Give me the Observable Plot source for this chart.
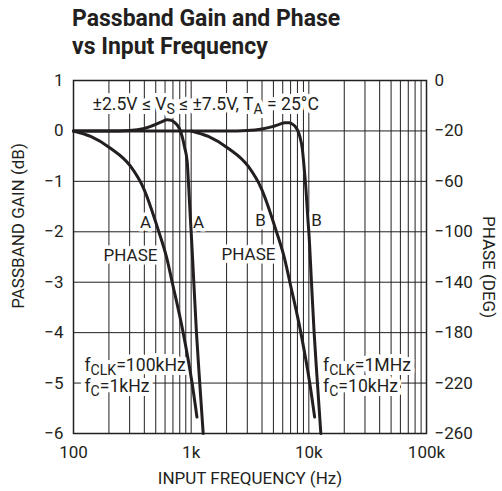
<!DOCTYPE html>
<html><head><meta charset="utf-8">
<script src="https://cdn.jsdelivr.net/npm/d3@7"></script>
<script src="https://cdn.jsdelivr.net/npm/@observablehq/plot@0.6"></script>
<style>
body{margin:0;background:#fff;}
#title{font-family:Roboto,"Liberation Sans",Arial,sans-serif;font-weight:bold;font-size:23px;line-height:27.5px;padding:5px 0 0 72px;height:62px;box-sizing:border-box;color:#231f20;}
</style></head>
<body>
<div id="title">Passband Gain and Phase<br>vs Input Frequency</div>
<div id="chart"></div>
<script>
// ---- data ----
const gainA_freq = [100,200,300,400,500,560,625,680,730,770,800,840,880,925,955,988,1000,1053,1109,1183,1265];
const gainA_dB   = [0,0,0.01,0.05,0.13,0.18,0.22,0.21,0.16,0.1,0.03,-0.12,-0.33,-0.61,-1.15,-1.8,-2,-3,-4,-5,-6];
const gainB_freq = [100,1000,2000,3000,4000,5000,5600,6250,6800,7300,7700,8000,8400,8800,9100,9450,9850,10000,10530,11090,11830,12650];
const gainB_dB   = [0,0,0,0.01,0.04,0.09,0.13,0.16,0.16,0.13,0.08,0.02,-0.12,-0.35,-0.7,-1.15,-1.8,-2,-3,-4,-5,-6];
const phaseA_freq = [100,140,206,305,395,531,625,690,855,1018,1120];
const phaseA_deg  = [-20,-24.4,-33.7,-48,-65.7,-100,-122,-140,-180,-220,-247];
const phaseB_freq = [1000,1400,2060,3050,3950,5310,6250,6900,8550,10180,11200];
const phaseB_deg  = [-20,-24.4,-33.7,-48,-65.7,-100,-122,-140,-180,-220,-247];

const gainTicks = [1,0,-1,-2,-3,-4,-5,-6];
const gainTickLabels = ["1","0","−1","−2","−3","−4","−5","−6"];
const phaseTickLabels = ["0","−20","−60","−100","−140","−180","−220","−260"];
const freqTicks = [100,1000,10000,100000];
const freqTickLabels = ["100","1k","10k","100k"];
const gridDecades = [100,1000,10000];
const gridMultipliers = [1,2,3,4,5,6,7,8,9];

const curveLabels = ["A","A","PHASE","B","B","PHASE"];
const curveLabelFreq = [409,1153,305,3882,11610,3069];
const curveLabelGain = [-1.81,-1.81,-2.47,-1.77,-1.77,-2.45];
const noteLabels = ["±2.5V ≤ V_{S} ≤ ±7.5V, T_{A} = 25°C","f_{CLK}=100kHz","f_{C}=1kHz","f_{CLK}=1MHz","f_{C}=10kHz"];
const noteFreq = [145,124,124,13210,13210];
const noteGain = [0.53,-4.64,-5.06,-4.64,-5.06];

// ---- build tables ----
const toGain = d => (d + 20) / 40; // phase (deg) onto the gain axis
const gainA = gainA_freq.map((f,i)=>({f, g: gainA_dB[i]}));
const gainB = gainB_freq.map((f,i)=>({f, g: gainB_dB[i]}));
const phaseA = phaseA_freq.map((f,i)=>({f, g: toGain(phaseA_deg[i])}));
const phaseB = phaseB_freq.map((f,i)=>({f, g: toGain(phaseB_deg[i])}));
const gridFreqs = gridDecades.flatMap(d => gridMultipliers.map(m => m*d)).filter(f => f > 100);
const curveLab = curveLabels.map((t,i)=>({t, f: curveLabelFreq[i], g: curveLabelGain[i]}));
const notes = noteLabels.map((t,i)=>({t, f: noteFreq[i], g: noteGain[i]}));
const gainFmt = new Map(gainTicks.map((v,i)=>[v, gainTickLabels[i]]));
const phaseFmt = new Map(gainTicks.map((v,i)=>[v, phaseTickLabels[i]]));
const freqFmt = new Map(freqTicks.map((v,i)=>[v, freqTickLabels[i]]));

const INK = "#231f20";
const FONT = 'Roboto,"Liberation Sans",Arial,sans-serif';
const FS = 17;
const NFS = 17.6;

const chart = Plot.plot({
  width: 502, height: 429,
  marginTop: 18, marginBottom: 58, marginLeft: 73, marginRight: 76,
  x: {type: "log", domain: [100, 100000]},
  y: {domain: [-6, 1]},
  style: {fontFamily: FONT, fontSize: FS + "px", color: INK, background: "#fff", overflow: "visible"},
  marks: [
    Plot.ruleX(gridFreqs, {stroke: INK, strokeWidth: 1}),
    Plot.ruleY(gainTicks, {stroke: INK, strokeWidth: 1}),
    Plot.text(curveLab, {x: "f", y: "g", text: "t", fill: "white", stroke: "white", strokeWidth: 7, fontSize: FS}),
    Plot.text(notes, {x: "f", y: "g", text: "t", textAnchor: "start", fill: "white", stroke: "white", strokeWidth: 8, fontSize: NFS}),
    Plot.frame({stroke: INK, strokeWidth: 1.5}),
    Plot.line(gainA, {x: "f", y: "g", stroke: INK, strokeWidth: 3, curve: "monotone-x"}),
    Plot.line(gainB, {x: "f", y: "g", stroke: INK, strokeWidth: 3, curve: "monotone-x"}),
    Plot.line(phaseA, {x: "f", y: "g", stroke: INK, strokeWidth: 3, curve: "monotone-x"}),
    Plot.line(phaseB, {x: "f", y: "g", stroke: INK, strokeWidth: 3, curve: "monotone-x"}),
    Plot.text(curveLab, {x: "f", y: "g", text: "t", fill: INK, fontSize: FS}),
    Plot.text(notes, {x: "f", y: "g", text: "t", textAnchor: "start", fill: INK, fontSize: NFS}),
    Plot.axisX(freqTicks, {tickSize: 0, tickPadding: 12, tickFormat: d => freqFmt.get(d), label: null, fontSize: FS}),
    Plot.axisY(gainTicks, {anchor: "left", tickSize: 0, tickPadding: 10, tickFormat: d => gainFmt.get(d), label: null, fontSize: FS}),
    Plot.axisY(gainTicks, {anchor: "right", tickSize: 0, tickPadding: 8, tickFormat: d => phaseFmt.get(d), label: null, fontSize: FS}),
    Plot.text(["INPUT FREQUENCY (Hz)"], {frameAnchor: "bottom", textAnchor: "middle", dy: 50, fontSize: FS, fill: INK}),
    Plot.text(["PASSBAND GAIN (dB)"], {frameAnchor: "left", textAnchor: "middle", rotate: -90, dx: -55, dy: -31, fontSize: FS, fill: INK}),
    Plot.text(["PHASE (DEG)"], {frameAnchor: "right", textAnchor: "middle", rotate: 90, dx: 62, dy: 10, fontSize: FS, fill: INK})
  ]
});

// subscripts: turn _{..} into lowered tspans
d3.select(chart).selectAll("text").each(function(){
  const t = this.textContent;
  if (!t.includes("_{")) return;
  const parts = t.split(/(_\{[^}]*\})/).filter(s => s);
  const el = d3.select(this);
  el.text(null);
  let lowered = false;
  for (const p of parts) {
    if (p.startsWith("_{")) {
      el.append("tspan").attr("dy", 4).attr("font-size", "0.8em").text(p.slice(2, -1));
      lowered = true;
    } else {
      const ts = el.append("tspan").text(p);
      if (lowered) { ts.attr("dy", -4); lowered = false; }
    }
  }
});

document.getElementById("chart").append(chart);
</script>
</body></html>
